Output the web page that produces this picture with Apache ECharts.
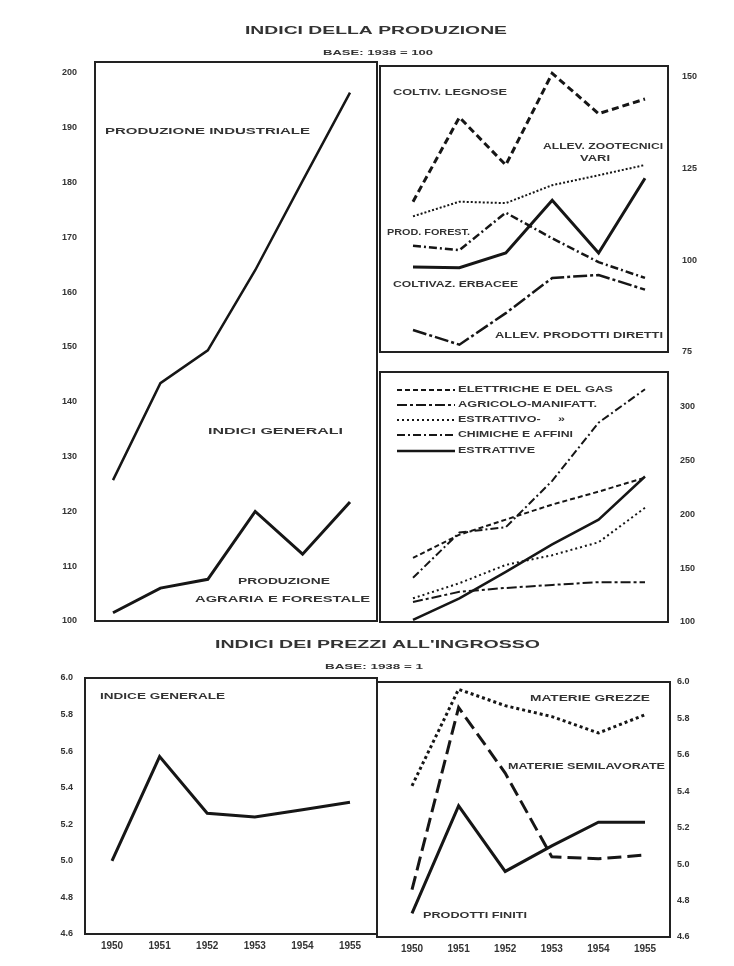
<!DOCTYPE html>
<html><head><meta charset="utf-8">
<script src="https://cdn.jsdelivr.net/npm/echarts@6/dist/echarts.min.js"></script>
<style>html,body{margin:0;padding:0;background:#fff}#c{width:734px;height:966px}</style>
</head><body><div id="c"></div>
<script>
// ---------- DATA ----------
const years = [1950, 1951, 1952, 1953, 1954, 1955];

// Indici della produzione (base 1938 = 100) - indici generali
const prodIndustriale = [125.7, 143.4, 149.4, 164.0, 180.3, 196.4];
const prodAgrariaForestale = [101.5, 106.0, 107.6, 120.0, 112.2, 121.7];

// Produzione agraria e forestale - dettaglio
const coltivLegnose = [116, 139, 126, 151, 140, 144];
const allevZootecniciVari = [112, 116, 115.6, 120.5, 123.2, 126];
const prodForest = [104, 102.8, 113, 106, 99.5, 95.2];
const coltivazErbacee = [98.2, 98, 102, 116.4, 102, 122.4];
const allevProdottiDiretti = [81, 77, 85.6, 95.2, 96, 92];

// Produzione industriale - dettaglio
const elettricheGas = [159.5, 181, 195, 209, 221, 234];
const agricoloManifatt = [118.6, 128, 131.6, 134.4, 137, 137];
const estrattivoManifatt = [122, 136, 153, 162, 174, 206];
const chimicheAffini = [141, 183, 188, 231, 285, 316];
const estrattive = [102, 122, 146.5, 172, 195, 235];

// Indici dei prezzi all'ingrosso (base 1938 = 1)
const indiceGenerale = [5.0, 5.57, 5.26, 5.24, 5.28, 5.32];
const materieGrezze = [5.43, 5.96, 5.87, 5.81, 5.72, 5.82];
const materieSemilavorate = [4.86, 5.86, 5.50, 5.04, 5.03, 5.05];
const prodottiFiniti = [4.73, 5.32, 4.96, 5.10, 5.23, 5.23];

// ---------- RENDER ----------
const INK = '#161616', TXT = '#333';
const FONT = '"Liberation Sans", "DejaVu Sans", sans-serif';
const chart = echarts.init(document.getElementById('c'), null, {renderer: 'canvas'});

const grids = [
  {left: 113, right: 734 - 350, top: 62, bottom: 966 - 621},   // 0 top-left
  {left: 413, right: 734 - 645, top: 66, bottom: 966 - 352},   // 1 top-right upper
  {left: 413, right: 734 - 645, top: 372, bottom: 966 - 622},  // 2 top-right lower
  {left: 112, right: 734 - 350, top: 678, bottom: 966 - 934},  // 3 bottom-left
  {left: 412, right: 734 - 645, top: 682, bottom: 966 - 937}   // 4 bottom-right
];

function xAx(i, showLabels) {
  return {type: 'value', gridIndex: i, min: 1950, max: 1955, interval: 1,
    axisLine: {show: false}, axisTick: {show: false}, splitLine: {show: false},
    axisLabel: {show: showLabels, margin: 7, fontSize: 10, fontWeight: 'bold', color: TXT,
      fontFamily: FONT, formatter: v => String(v)}};
}
function yAx(i, pos, min, max, interval, margin, dec, hideMax) {
  return {type: 'value', gridIndex: i, position: pos, min, max, interval,
    axisLine: {show: false}, axisTick: {show: false}, splitLine: {show: false},
    axisLabel: {margin, fontSize: 9, fontWeight: 'bold', color: TXT, fontFamily: FONT,
      showMaxLabel: !hideMax, hideOverlap: false,
      formatter: v => {
        const k = v / interval;
        return Math.abs(k - Math.round(k)) < 1e-6 ? v.toFixed(dec) : '';
      }}};
}

function ser(name, i, arr, width, type) {
  return {name, type: 'line', xAxisIndex: i, yAxisIndex: i, symbol: 'none', silent: true,
    data: years.map((y, k) => [y, arr[k]]),
    lineStyle: {color: INK, width, type: type || 'solid', cap: 'butt', join: 'miter'}};
}

const measureCtx = document.createElement('canvas').getContext('2d');
function txt(text, x1, x2, y, size) {
  const font = 'bold ' + size + 'px ' + FONT;
  measureCtx.font = font;
  const w = measureCtx.measureText(text).width;
  return {type: 'text', x: x1, y: y, scaleX: (x2 - x1) / w, z: 20,
    style: {text, font, fill: TXT, align: 'left', verticalAlign: 'middle'}};
}
function frame(x, y, w, h) {
  return {type: 'rect', shape: {x, y, width: w, height: h}, z: 5,
    style: {fill: 'none', stroke: '#222', lineWidth: 2}};
}
function sample(y, dash, width) {
  return {type: 'line', shape: {x1: 397, y1: y, x2: 455, y2: y}, z: 20,
    style: {stroke: INK, lineWidth: width, lineDash: dash}};
}

const graphic = [
  frame(95, 62, 282, 559),
  frame(380, 66, 288, 286),
  frame(380, 372, 288, 250),
  frame(85, 678, 292, 256),
  frame(377, 682, 293, 255),
  txt('INDICI DELLA PRODUZIONE', 245, 507, 31, 11),
  txt('BASE: 1938 = 100', 323, 433, 53, 8),
  txt('PRODUZIONE INDUSTRIALE', 105, 310, 132, 9),
  txt('INDICI GENERALI', 208, 343, 432, 9),
  txt('PRODUZIONE', 238, 330, 582, 9),
  txt('AGRARIA E FORESTALE', 195, 370, 600, 9),
  txt('COLTIV. LEGNOSE', 393, 507, 93, 9),
  txt('ALLEV. ZOOTECNICI', 543, 663, 147, 9),
  txt('VARI', 580, 610, 159, 9),
  txt('PROD. FOREST.', 387, 470, 233, 9),
  txt('COLTIVAZ. ERBACEE', 393, 518, 285, 9),
  txt('ALLEV. PRODOTTI DIRETTI', 495, 663, 336, 9),
  sample(390, [5, 3], 2), txt('ELETTRICHE E DEL GAS', 458, 613, 390, 9),
  sample(405, [10, 3, 3, 3], 2), txt('AGRICOLO-MANIFATT.', 458, 597, 405, 9),
  sample(420, [2, 3], 2), txt('ESTRATTIVO-     »', 458, 565, 420, 9),
  sample(435, [8, 3, 2, 3], 2), txt('CHIMICHE E AFFINI', 458, 573, 435, 9),
  sample(451, null, 2.5), txt('ESTRATTIVE', 458, 535, 451, 9),
  txt("INDICI DEI PREZZI ALL'INGROSSO", 215, 540, 645, 11),
  txt('BASE: 1938 = 1', 325, 423, 667, 8),
  txt('INDICE GENERALE', 100, 225, 697, 9),
  txt('MATERIE GREZZE', 530, 650, 699, 9),
  txt('MATERIE SEMILAVORATE', 508, 665, 767, 9),
  txt('PRODOTTI FINITI', 423, 527, 916, 9)
];

chart.setOption({
  animation: false,
  backgroundColor: '#fff',
  grid: grids,
  xAxis: [xAx(0, false), xAx(1, false), xAx(2, false), xAx(3, true), xAx(4, true)],
  yAxis: [
    yAx(0, 'left', 100, 202, 10, 36, 0, true),
    yAx(1, 'right', 75, 153, 25, 37, 0, true),
    yAx(2, 'right', 100, 332, 50, 35, 0, true),
    yAx(3, 'left', 4.6, 6.0, 0.2, 39, 1, false),
    yAx(4, 'right', 4.6, 6.0, 0.2, 32, 1, false)
  ],
  series: [
    ser('Produzione industriale', 0, prodIndustriale, 2.5),
    ser('Produzione agraria e forestale', 0, prodAgrariaForestale, 3),
    ser('Coltiv. legnose', 1, coltivLegnose, 3, [7, 4]),
    ser('Allev. zootecnici vari', 1, allevZootecniciVari, 2, [2, 2]),
    ser('Prod. forest.', 1, prodForest, 2.5, [8, 3, 2, 3]),
    ser('Coltivaz. erbacee', 1, coltivazErbacee, 3),
    ser('Allev. prodotti diretti', 1, allevProdottiDiretti, 2.5, [14, 3, 3, 3]),
    ser('Elettriche e del gas', 2, elettricheGas, 2, [5, 3]),
    ser('Agricolo-manifatt.', 2, agricoloManifatt, 2, [10, 3, 3, 3]),
    ser('Estrattivo-manifatt.', 2, estrattivoManifatt, 2, [2, 3]),
    ser('Chimiche e affini', 2, chimicheAffini, 2, [8, 3, 2, 3]),
    ser('Estrattive', 2, estrattive, 2.5),
    ser('Indice generale', 3, indiceGenerale, 3),
    ser('Materie grezze', 4, materieGrezze, 3, [3, 3]),
    ser('Materie semilavorate', 4, materieSemilavorate, 3, [14, 6]),
    ser('Prodotti finiti', 4, prodottiFiniti, 3)
  ],
  graphic: graphic
});
</script>
</body></html>
